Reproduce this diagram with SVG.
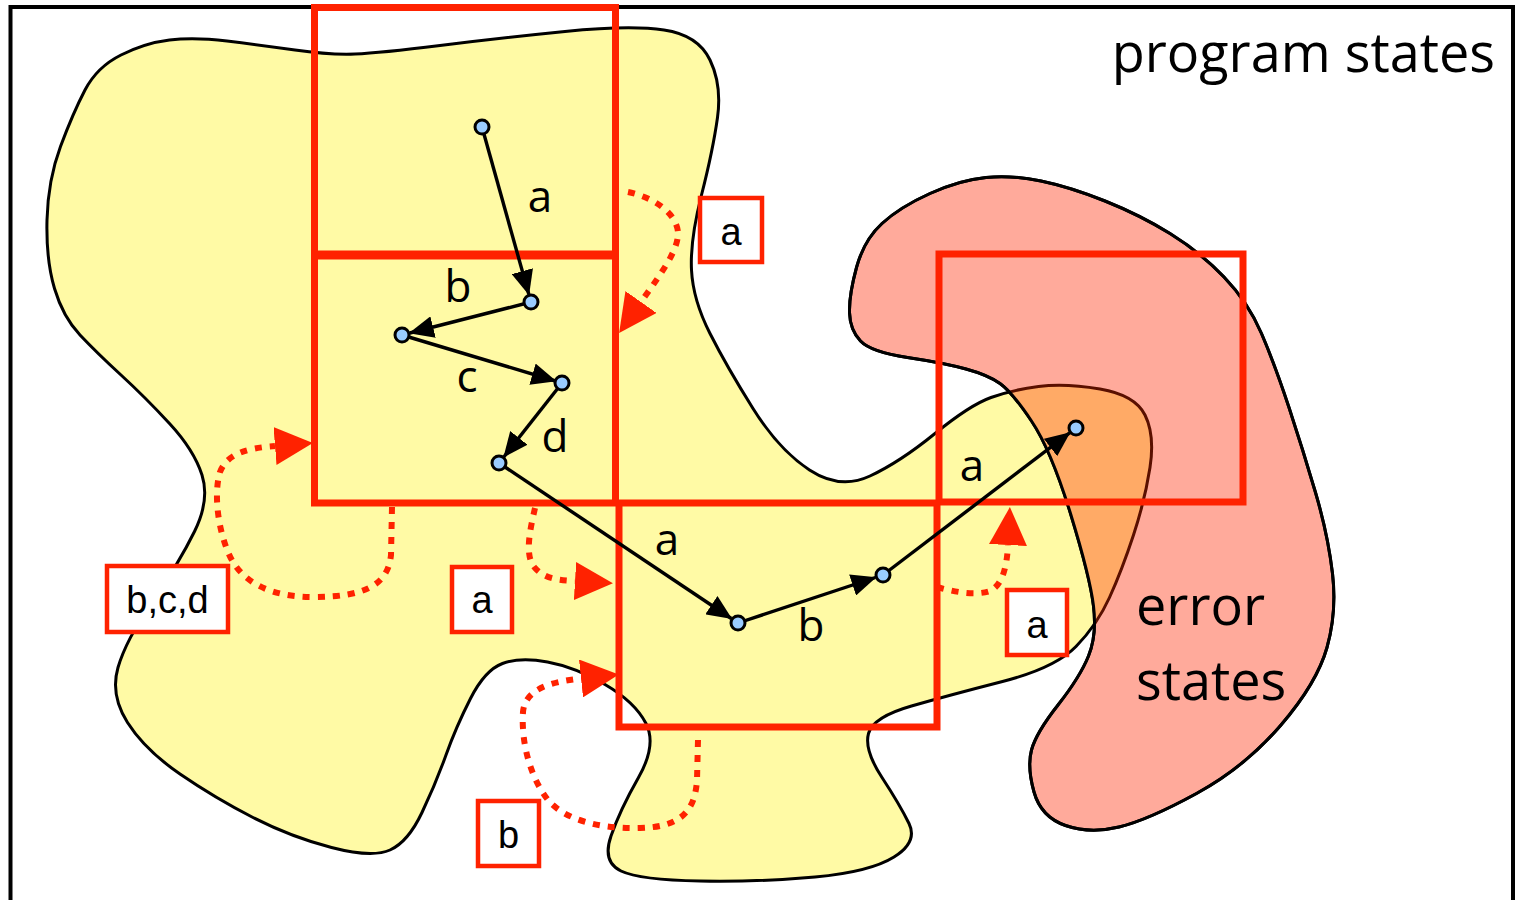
<svg xmlns="http://www.w3.org/2000/svg" width="1517" height="900" viewBox="0 0 1517 900">
<style>
.blob{stroke:#000;stroke-width:3;}
.rr{fill:none;stroke:#FF2200;stroke-width:7;}
.edge{fill:none;stroke:#000;stroke-width:3.4;marker-end:url(#ah);}
.node{fill:#99CCFF;stroke:#000;stroke-width:3;}
.dot{fill:none;stroke:#FF2200;stroke-width:6;stroke-dasharray:7 8;marker-end:url(#rh);}
.box{fill:#fff;stroke:#FF2200;stroke-width:4.5;}
.bl{font-family:"Liberation Sans",Arial,sans-serif;font-size:38px;text-anchor:middle;fill:#000;}
.el{font-family:"Open Sans","Noto Sans",sans-serif;font-size:44px;text-anchor:middle;fill:#000;}
.big{font-family:"Open Sans","Noto Sans",sans-serif;font-size:54px;fill:#000;}
</style>
<defs>
<marker id="ah" markerUnits="userSpaceOnUse" viewBox="0 0 25 22" markerWidth="25" markerHeight="22" refX="24" refY="11" orient="auto"><path d="M0,0 L25,11 L0,22 z" fill="#000"/></marker>
<marker id="rh" markerUnits="userSpaceOnUse" viewBox="0 0 38 38" markerWidth="38" markerHeight="38" refX="0" refY="19" orient="auto"><path d="M0,0 L38,19 L0,38 z" fill="#FF2200"/></marker>
<path id="yp" d="M169.5,40 Q194,37 227,41 Q260,45 295,50 Q330,55 355,54 Q380,53 440,45.5 Q500,38 565,31.5 Q630,25 664,30 Q698,35 710,60 Q722,85 717.5,117.5 Q713,150 701.5,195 Q690,240 691.5,270 Q693,300 710,333.5 Q727,367 753,408.5 Q779,450 809.5,470 Q840,490 870,476 Q900,462 935,433.5 Q970,405 991,397.5 Q1012,390 1038.5,386.5 Q1065,383 1100,389 Q1135,395 1145,415 Q1155,435 1150,467.5 Q1145,500 1133.5,535 Q1122,570 1109.5,597.5 Q1097,625 1076,646.5 Q1055,668 1002.5,681.5 Q950,695 911.5,706 Q873,717 868.5,733.5 Q864,750 882,777.5 Q900,805 909,823.5 Q918,842 894,857 Q870,872 815,877 Q760,882 700,881 Q640,880 621,871 Q602,862 611,836 Q620,810 638.5,777.5 Q657,745 646,723.5 Q635,702 605,684.5 Q575,667 547.5,662 Q520,657 502.5,663.5 Q485,670 470.5,698.5 Q456,727 446,755 Q436,783 422,812.5 Q408,842 390,850 Q372,858 331.5,847.5 Q291,837 253,817.5 Q215,798 180,774 Q145,750 127.5,722.5 Q110,695 118,667.5 Q126,640 152.5,601.5 Q179,563 194.5,531.5 Q210,500 202,475 Q194,450 169.5,423.5 Q145,397 121,375 Q97,353 80,335 Q63,317 54.5,288.5 Q46,260 47,220 Q48,180 60.5,146.5 Q73,113 85,90 Q97,67 121,55 Q145,43 169.5,40 Z"/>
<path id="rp" d="M986,177.5 Q1012,175 1041,181 Q1070,187 1105,201 Q1140,215 1170,233.5 Q1200,252 1224,277 Q1248,302 1261.5,333.5 Q1275,365 1289,407.5 Q1303,450 1315.5,492.5 Q1328,535 1332.5,573.5 Q1337,612 1327,647.5 Q1317,683 1281,725 Q1245,767 1196.5,793.5 Q1148,820 1119,827 Q1090,834 1065.5,825.5 Q1041,817 1034,792 Q1027,767 1031.5,750 Q1036,733 1058,705 Q1080,677 1088.5,656 Q1097,635 1093.5,606 Q1090,577 1070.5,513.5 Q1051,450 1031.5,421 Q1012,392 1000,383.5 Q988,375 966,369 Q944,363 907.5,357.5 Q871,352 860.5,341 Q850,330 849.5,312.5 Q849,295 856.5,267.5 Q864,240 882,223.5 Q900,207 930,193.5 Q960,180 986,177.5 Z"/>
<clipPath id="rclip"><use href="#rp"/></clipPath>
</defs>
<rect x="0" y="0" width="1517" height="900" fill="#fff"/>
<rect x="10.5" y="7" width="1502.5" height="1000" fill="none" stroke="#000" stroke-width="4"/>
<g id="program-states-region">
<use href="#yp" class="blob" fill="#FFFAA5"/>
</g>
<g id="error-states-region">
<use href="#rp" class="blob" fill="#FFAA9B"/>
<use href="#yp" clip-path="url(#rclip)" fill="#FFAA66" stroke="#5A1000" stroke-width="3"/>
<use href="#rp" fill="none" stroke="#000" stroke-width="3"/>
</g>
<g id="abstract-regions">
<rect id="r1" class="rr" x="314.5" y="7.5" width="301" height="246.5"/>
<rect id="r2" class="rr" x="314.5" y="256" width="301" height="247"/>
<rect id="r3" class="rr" x="619" y="503" width="318" height="224"/>
<rect id="r4" class="rr" x="939" y="254" width="304" height="248"/>
</g>
<g id="connectors">
<line class="edge" x1="482" y1="127" x2="528.8" y2="294.3"/>
<line class="edge" x1="531" y1="302" x2="409.8" y2="333"/>
<line class="edge" x1="402" y1="335" x2="555.5" y2="381"/>
<line class="edge" x1="562" y1="383" x2="504" y2="456.7"/>
<line class="edge" x1="499" y1="463" x2="731.3" y2="618.5"/>
<line class="edge" x1="738" y1="623" x2="875.4" y2="577.5"/>
<line class="edge" x1="883" y1="575" x2="1069.6" y2="432.9"/>
<path class="dot" d="M628,192 C652,197 676,212 678,232 C679,250 660,275 641,302"/>
<path class="dot" d="M392,507 L391,555 C388,585 365,597 313,597 C270,597 240,582 228,552 C217,525 214,492 220,472 C228,452 250,448 275,446"/>
<path class="dot" d="M535,508 C530,530 524,556 535,568 C545,579 558,580 575,581"/>
<path class="dot" d="M698,740 L697,780 C695,812 680,827 640,828 C600,829 565,820 548,800 C530,777 521,742 523,712 C525,690 548,682 581,678.5"/>
<path class="dot" d="M937,587 C955,592 975,596 990,591 C1003,585 1007,565 1008,545"/>
</g>
<g id="edge-labels">
<text class="el" x="540" y="212">a</text>
<text class="el" x="458" y="302">b</text>
<text class="el" x="467" y="392">c</text>
<text class="el" x="555" y="452">d</text>
<text class="el" x="667" y="555">a</text>
<text class="el" x="811" y="641">b</text>
<text class="el" x="972" y="481">a</text>
</g>
<g id="nodes">
<circle id="n1" class="node" cx="482" cy="127" r="7"/>
<circle id="n2" class="node" cx="531" cy="302" r="7"/>
<circle id="n3" class="node" cx="402" cy="335" r="7"/>
<circle id="n4" class="node" cx="562" cy="383" r="7"/>
<circle id="n5" class="node" cx="499" cy="463" r="7"/>
<circle id="n6" class="node" cx="738" cy="623" r="7"/>
<circle id="n7" class="node" cx="883" cy="575" r="7"/>
<circle id="n8" class="node" cx="1076" cy="428" r="7"/>
</g>
<g id="label-a1"><rect class="box" x="700" y="198" width="62" height="64"/><text class="bl" x="731" y="245">a</text></g>
<g id="label-bcd"><rect class="box" x="107" y="566" width="121" height="66"/><text class="bl" x="167.5" y="613">b,c,d</text></g>
<g id="label-a2"><rect class="box" x="452" y="567" width="60" height="65"/><text class="bl" x="482" y="613">a</text></g>
<g id="label-b"><rect class="box" x="478" y="801" width="61" height="65"/><text class="bl" x="508.5" y="848">b</text></g>
<g id="label-a3"><rect class="box" x="1007" y="590" width="60" height="65"/><text class="bl" x="1037" y="638">a</text></g>
<g id="titles">
<text class="big" x="1495" y="72" text-anchor="end">program states</text>
<text class="big" x="1136" y="625">error</text>
<text class="big" x="1136" y="700">states</text>
</g>
</svg>
